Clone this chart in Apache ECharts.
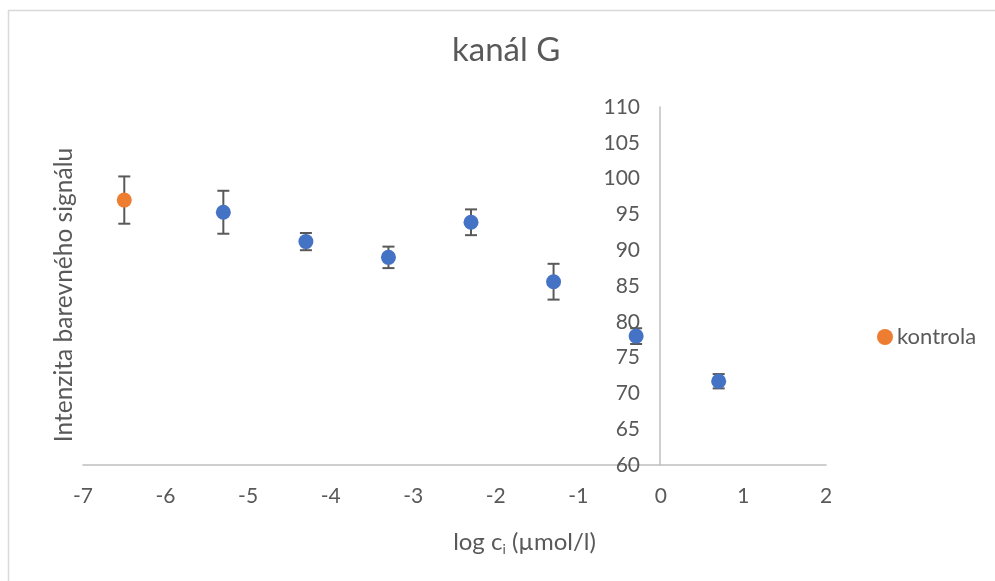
<!DOCTYPE html>
<html>
<head>
<meta charset="utf-8">
<script src="https://cdn.jsdelivr.net/npm/echarts@6/dist/echarts.min.js"></script>
<style>
  html, body { margin: 0; padding: 0; background: #fff; }
  #chart { width: 995px; height: 581px; }
</style>
</head>
<body>
<div id="chart"></div>
<script>
// data
const controlX = [-6.5];
const controlY = [97.0];
const controlErr = [3.3];

const sampleX = [-5.3, -4.3, -3.3, -2.3, -1.3, -0.3, 0.7];
const sampleY = [95.3, 91.2, 89.0, 93.9, 85.6, 78.0, 71.7];
const sampleErr = [3.0, 1.2, 1.5, 1.8, 2.5, 1.1, 1.0];

const FONT = "Lato";
const TEXT = "#595959";

function pairs(xs, ys) {
  return xs.map((x, i) => [x, ys[i]]);
}
function errRows(xs, ys, es) {
  return xs.map((x, i) => [x, ys[i] - es[i], ys[i] + es[i]]);
}

function renderErr(params, api) {
  const x = api.value(0);
  const lo = api.coord([x, api.value(1)]);
  const hi = api.coord([x, api.value(2)]);
  const cap = 6;
  const style = { stroke: "#595959", lineWidth: 2 };
  return {
    type: "group",
    children: [
      { type: "line", shape: { x1: lo[0], y1: lo[1], x2: hi[0], y2: hi[1] }, style },
      { type: "line", shape: { x1: lo[0] - cap, y1: lo[1], x2: lo[0] + cap, y2: lo[1] }, style },
      { type: "line", shape: { x1: hi[0] - cap, y1: hi[1], x2: hi[0] + cap, y2: hi[1] }, style }
    ]
  };
}

const chart = echarts.init(document.getElementById("chart"));
chart.setOption({
  backgroundColor: "#fff",
  animation: false,
  textStyle: { fontFamily: FONT },
  title: {
    text: "kanál G",
    left: 452,
    top: 34,
    padding: 0,
    textStyle: { fontFamily: FONT, fontSize: 33, fontWeight: "normal", color: TEXT }
  },
  graphic: [
    {
      type: "rect",
      shape: { x: 8.5, y: 10.5, width: 1200, height: 800 },
      style: { fill: "none", stroke: "#d9d9d9", lineWidth: 1.5 },
      silent: true
    }
  ],
  legend: {
    left: 872,
    top: 321,
    data: ["kontrola"],
    itemWidth: 16,
    itemHeight: 16,
    itemGap: 4,
    textStyle: { fontFamily: FONT, fontSize: 22, color: TEXT, padding: [0, 0, 0, -1] }
  },
  grid: { left: 83, right: 169, top: 107, bottom: 116, outerBoundsMode: "none" },
  xAxis: {
    type: "value",
    min: -7,
    max: 2,
    interval: 1,
    name: "log c{sub|i} (µmol/l)",
    nameLocation: "middle",
    nameGap: 64,
    nameTextStyle: {
      fontFamily: FONT,
      fontSize: 24,
      color: TEXT,
      padding: [0, 0, 0, 140],
      rich: { sub: { fontFamily: FONT, fontSize: 14, color: TEXT, verticalAlign: "bottom", padding: [13, 0, 0, 0] } }
    },
    splitLine: { show: false },
    axisTick: { show: false },
    axisLine: { onZero: false, lineStyle: { color: "#bfbfbf", width: 1.5 } },
    axisLabel: { fontFamily: FONT, fontSize: 21, color: TEXT, margin: 21 }
  },
  yAxis: {
    type: "value",
    min: 60,
    max: 110,
    interval: 5,
    // the vertical axis crosses x = 0, which sits 577 px right of the grid's left edge
    offset: -577,
    name: "Intenzita barevného signálu",
    nameLocation: "middle",
    nameRotate: 90,
    nameGap: 583,
    nameTextStyle: { fontFamily: FONT, fontSize: 24.5, color: TEXT, padding: [0, 18, 0, 0] },
    splitLine: { show: false },
    axisTick: { show: false },
    axisLine: { show: true, onZero: false, lineStyle: { color: "#bfbfbf", width: 1.5 } },
    axisLabel: { fontFamily: FONT, fontSize: 21, color: TEXT, margin: 20 }
  },
  series: [
    {
      name: "err-sample",
      type: "custom",
      renderItem: renderErr,
      data: errRows(sampleX, sampleY, sampleErr),
      encode: { x: 0, y: [1, 2] },
      z: 2
    },
    {
      name: "err-control",
      type: "custom",
      renderItem: renderErr,
      data: errRows(controlX, controlY, controlErr),
      encode: { x: 0, y: [1, 2] },
      z: 2
    },
    {
      name: "vzorky",
      type: "scatter",
      symbol: "circle",
      symbolSize: 15,
      itemStyle: { color: "#4472c4", opacity: 1 },
      data: pairs(sampleX, sampleY),
      z: 3
    },
    {
      name: "kontrola",
      type: "scatter",
      symbol: "circle",
      symbolSize: 15,
      itemStyle: { color: "#ed7d31", opacity: 1 },
      data: pairs(controlX, controlY),
      z: 3
    }
  ]
});
</script>
</body>
</html>
